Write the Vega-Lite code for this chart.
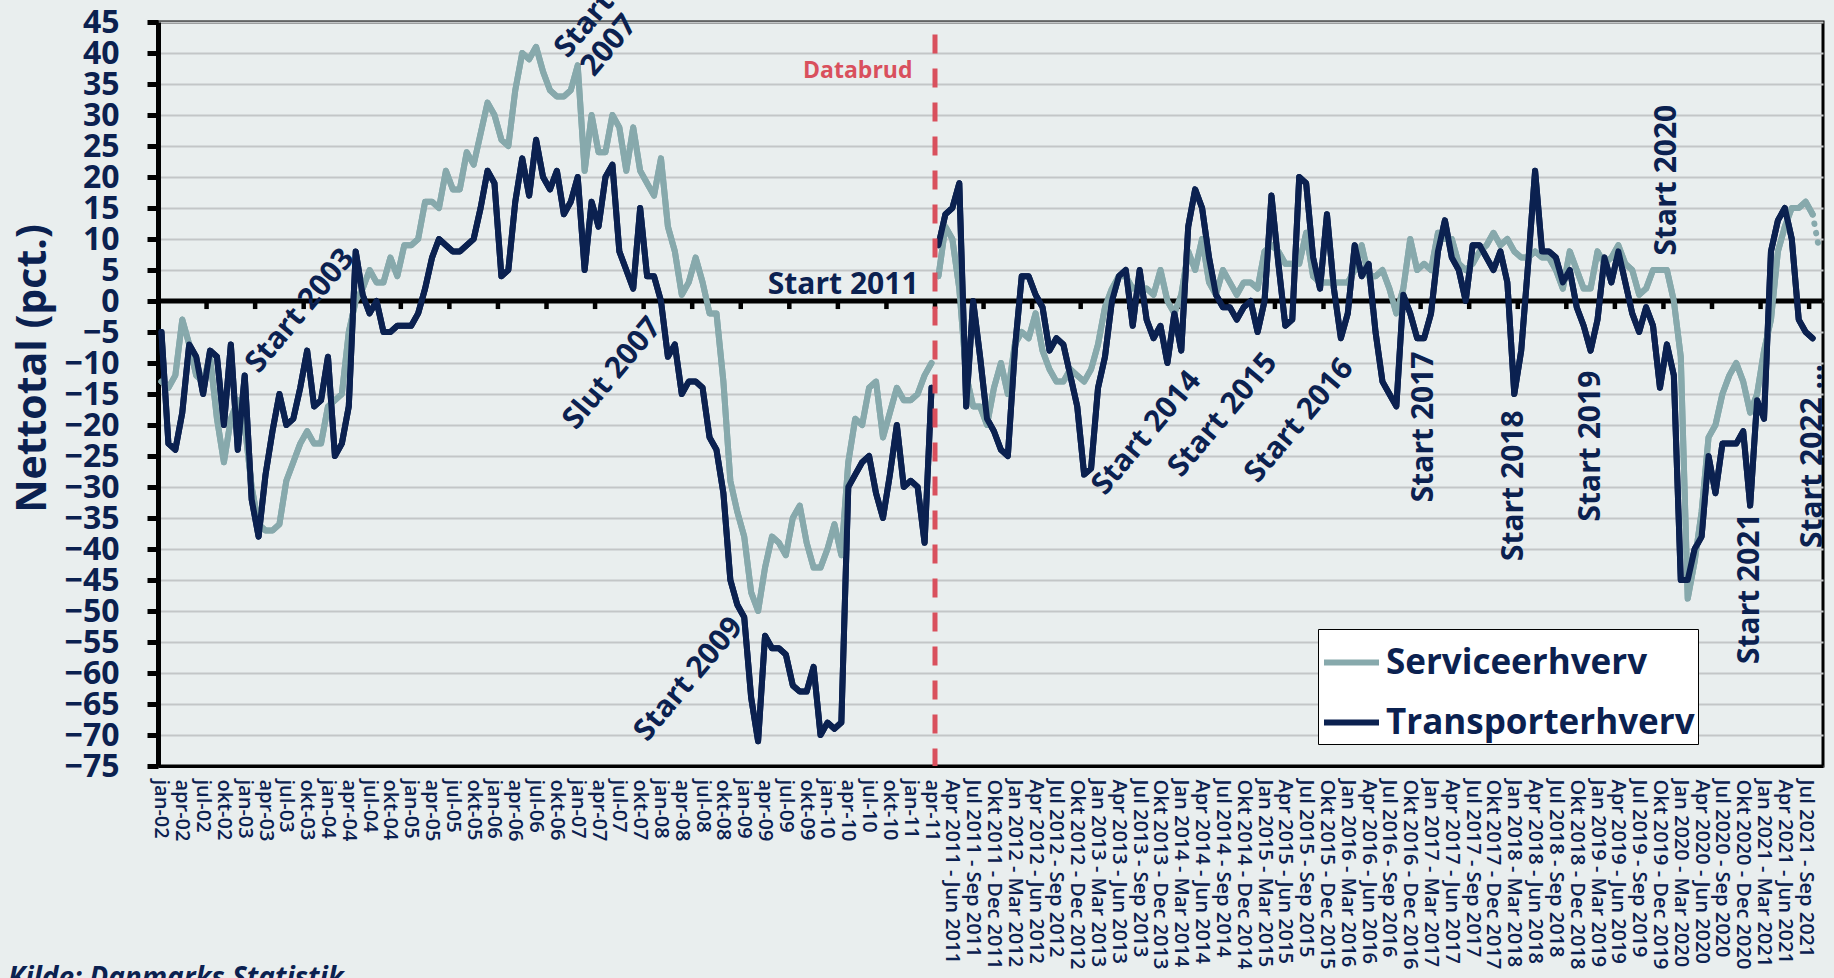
{
  "$schema": "https://vega.github.io/schema/vega-lite/v6.json",
  "width": 1665,
  "height": 744,
  "autosize": {"type": "none"},
  "padding": {"left": 158, "top": 22, "right": 11, "bottom": 212},
  "background": "#e9eeee",
  "config": {
    "font": "Open Sans",
    "view": {"stroke": "#000000", "strokeWidth": 3},
    "axis": {"labelFont": "Open Sans", "titleFont": "Open Sans", "labelOverlap": false},
    "axisY": {"labelOverlap": false, "tickCount": 30},
    "legend": {"labelFont": "Open Sans"},
    "text": {"font": "Open Sans"}
  },
  "title": {"text": "Kilde: Danmarks Statistik", "orient": "bottom", "anchor": "start", "frame": "group", "dx": -150, "offset": -4, "fontSize": 28, "fontWeight": "bold", "fontStyle": "italic", "color": "#0b2150", "font": "Open Sans"},
  "datasets": {
    "main": [
      {"p":"jan-02","g":"A","Serviceerhverv":-13,"Transporterhverv":-5},
      {"p":"feb-02","g":"A","Serviceerhverv":-14,"Transporterhverv":-23},
      {"p":"mar-02","g":"A","Serviceerhverv":-12,"Transporterhverv":-24},
      {"p":"apr-02","g":"A","Serviceerhverv":-3,"Transporterhverv":-18},
      {"p":"maj-02","g":"A","Serviceerhverv":-7,"Transporterhverv":-7},
      {"p":"jun-02","g":"A","Serviceerhverv":-12,"Transporterhverv":-9},
      {"p":"jul-02","g":"A","Serviceerhverv":-13,"Transporterhverv":-15},
      {"p":"aug-02","g":"A","Serviceerhverv":-9,"Transporterhverv":-8},
      {"p":"sep-02","g":"A","Serviceerhverv":-19,"Transporterhverv":-9},
      {"p":"okt-02","g":"A","Serviceerhverv":-26,"Transporterhverv":-20},
      {"p":"nov-02","g":"A","Serviceerhverv":-19,"Transporterhverv":-7},
      {"p":"dec-02","g":"A","Serviceerhverv":-16,"Transporterhverv":-24},
      {"p":"jan-03","g":"A","Serviceerhverv":-20,"Transporterhverv":-12},
      {"p":"feb-03","g":"A","Serviceerhverv":-30,"Transporterhverv":-32},
      {"p":"mar-03","g":"A","Serviceerhverv":-36,"Transporterhverv":-38},
      {"p":"apr-03","g":"A","Serviceerhverv":-37,"Transporterhverv":-28},
      {"p":"maj-03","g":"A","Serviceerhverv":-37,"Transporterhverv":-21},
      {"p":"jun-03","g":"A","Serviceerhverv":-36,"Transporterhverv":-15},
      {"p":"jul-03","g":"A","Serviceerhverv":-29,"Transporterhverv":-20},
      {"p":"aug-03","g":"A","Serviceerhverv":-26,"Transporterhverv":-19},
      {"p":"sep-03","g":"A","Serviceerhverv":-23,"Transporterhverv":-14},
      {"p":"okt-03","g":"A","Serviceerhverv":-21,"Transporterhverv":-8},
      {"p":"nov-03","g":"A","Serviceerhverv":-23,"Transporterhverv":-17},
      {"p":"dec-03","g":"A","Serviceerhverv":-23,"Transporterhverv":-16},
      {"p":"jan-04","g":"A","Serviceerhverv":-17,"Transporterhverv":-9},
      {"p":"feb-04","g":"A","Serviceerhverv":-16,"Transporterhverv":-25},
      {"p":"mar-04","g":"A","Serviceerhverv":-15,"Transporterhverv":-23},
      {"p":"apr-04","g":"A","Serviceerhverv":-5,"Transporterhverv":-17},
      {"p":"maj-04","g":"A","Serviceerhverv":0,"Transporterhverv":8},
      {"p":"jun-04","g":"A","Serviceerhverv":2,"Transporterhverv":1},
      {"p":"jul-04","g":"A","Serviceerhverv":5,"Transporterhverv":-2},
      {"p":"aug-04","g":"A","Serviceerhverv":3,"Transporterhverv":0},
      {"p":"sep-04","g":"A","Serviceerhverv":3,"Transporterhverv":-5},
      {"p":"okt-04","g":"A","Serviceerhverv":7,"Transporterhverv":-5},
      {"p":"nov-04","g":"A","Serviceerhverv":4,"Transporterhverv":-4},
      {"p":"dec-04","g":"A","Serviceerhverv":9,"Transporterhverv":-4},
      {"p":"jan-05","g":"A","Serviceerhverv":9,"Transporterhverv":-4},
      {"p":"feb-05","g":"A","Serviceerhverv":10,"Transporterhverv":-2},
      {"p":"mar-05","g":"A","Serviceerhverv":16,"Transporterhverv":2},
      {"p":"apr-05","g":"A","Serviceerhverv":16,"Transporterhverv":7},
      {"p":"maj-05","g":"A","Serviceerhverv":15,"Transporterhverv":10},
      {"p":"jun-05","g":"A","Serviceerhverv":21,"Transporterhverv":9},
      {"p":"jul-05","g":"A","Serviceerhverv":18,"Transporterhverv":8},
      {"p":"aug-05","g":"A","Serviceerhverv":18,"Transporterhverv":8},
      {"p":"sep-05","g":"A","Serviceerhverv":24,"Transporterhverv":9},
      {"p":"okt-05","g":"A","Serviceerhverv":22,"Transporterhverv":10},
      {"p":"nov-05","g":"A","Serviceerhverv":27,"Transporterhverv":15},
      {"p":"dec-05","g":"A","Serviceerhverv":32,"Transporterhverv":21},
      {"p":"jan-06","g":"A","Serviceerhverv":30,"Transporterhverv":19},
      {"p":"feb-06","g":"A","Serviceerhverv":26,"Transporterhverv":4},
      {"p":"mar-06","g":"A","Serviceerhverv":25,"Transporterhverv":5},
      {"p":"apr-06","g":"A","Serviceerhverv":34,"Transporterhverv":16},
      {"p":"maj-06","g":"A","Serviceerhverv":40,"Transporterhverv":23},
      {"p":"jun-06","g":"A","Serviceerhverv":39,"Transporterhverv":17},
      {"p":"jul-06","g":"A","Serviceerhverv":41,"Transporterhverv":26},
      {"p":"aug-06","g":"A","Serviceerhverv":37,"Transporterhverv":20},
      {"p":"sep-06","g":"A","Serviceerhverv":34,"Transporterhverv":18},
      {"p":"okt-06","g":"A","Serviceerhverv":33,"Transporterhverv":21},
      {"p":"nov-06","g":"A","Serviceerhverv":33,"Transporterhverv":14},
      {"p":"dec-06","g":"A","Serviceerhverv":34,"Transporterhverv":16},
      {"p":"jan-07","g":"A","Serviceerhverv":38,"Transporterhverv":20},
      {"p":"feb-07","g":"A","Serviceerhverv":21,"Transporterhverv":5},
      {"p":"mar-07","g":"A","Serviceerhverv":30,"Transporterhverv":16},
      {"p":"apr-07","g":"A","Serviceerhverv":24,"Transporterhverv":12},
      {"p":"maj-07","g":"A","Serviceerhverv":24,"Transporterhverv":20},
      {"p":"jun-07","g":"A","Serviceerhverv":30,"Transporterhverv":22},
      {"p":"jul-07","g":"A","Serviceerhverv":28,"Transporterhverv":8},
      {"p":"aug-07","g":"A","Serviceerhverv":21,"Transporterhverv":5},
      {"p":"sep-07","g":"A","Serviceerhverv":28,"Transporterhverv":2},
      {"p":"okt-07","g":"A","Serviceerhverv":21,"Transporterhverv":15},
      {"p":"nov-07","g":"A","Serviceerhverv":19,"Transporterhverv":4},
      {"p":"dec-07","g":"A","Serviceerhverv":17,"Transporterhverv":4},
      {"p":"jan-08","g":"A","Serviceerhverv":23,"Transporterhverv":0},
      {"p":"feb-08","g":"A","Serviceerhverv":12,"Transporterhverv":-9},
      {"p":"mar-08","g":"A","Serviceerhverv":8,"Transporterhverv":-7},
      {"p":"apr-08","g":"A","Serviceerhverv":1,"Transporterhverv":-15},
      {"p":"maj-08","g":"A","Serviceerhverv":3,"Transporterhverv":-13},
      {"p":"jun-08","g":"A","Serviceerhverv":7,"Transporterhverv":-13},
      {"p":"jul-08","g":"A","Serviceerhverv":3,"Transporterhverv":-14},
      {"p":"aug-08","g":"A","Serviceerhverv":-2,"Transporterhverv":-22},
      {"p":"sep-08","g":"A","Serviceerhverv":-2,"Transporterhverv":-24},
      {"p":"okt-08","g":"A","Serviceerhverv":-13,"Transporterhverv":-31},
      {"p":"nov-08","g":"A","Serviceerhverv":-29,"Transporterhverv":-45},
      {"p":"dec-08","g":"A","Serviceerhverv":-34,"Transporterhverv":-49},
      {"p":"jan-09","g":"A","Serviceerhverv":-38,"Transporterhverv":-51},
      {"p":"feb-09","g":"A","Serviceerhverv":-47,"Transporterhverv":-64},
      {"p":"mar-09","g":"A","Serviceerhverv":-50,"Transporterhverv":-71},
      {"p":"apr-09","g":"A","Serviceerhverv":-43,"Transporterhverv":-54},
      {"p":"maj-09","g":"A","Serviceerhverv":-38,"Transporterhverv":-56},
      {"p":"jun-09","g":"A","Serviceerhverv":-39,"Transporterhverv":-56},
      {"p":"jul-09","g":"A","Serviceerhverv":-41,"Transporterhverv":-57},
      {"p":"aug-09","g":"A","Serviceerhverv":-35,"Transporterhverv":-62},
      {"p":"sep-09","g":"A","Serviceerhverv":-33,"Transporterhverv":-63},
      {"p":"okt-09","g":"A","Serviceerhverv":-39,"Transporterhverv":-63},
      {"p":"nov-09","g":"A","Serviceerhverv":-43,"Transporterhverv":-59},
      {"p":"dec-09","g":"A","Serviceerhverv":-43,"Transporterhverv":-70},
      {"p":"jan-10","g":"A","Serviceerhverv":-40,"Transporterhverv":-68},
      {"p":"feb-10","g":"A","Serviceerhverv":-36,"Transporterhverv":-69},
      {"p":"mar-10","g":"A","Serviceerhverv":-41,"Transporterhverv":-68},
      {"p":"apr-10","g":"A","Serviceerhverv":-26,"Transporterhverv":-30},
      {"p":"maj-10","g":"A","Serviceerhverv":-19,"Transporterhverv":-28},
      {"p":"jun-10","g":"A","Serviceerhverv":-20,"Transporterhverv":-26},
      {"p":"jul-10","g":"A","Serviceerhverv":-14,"Transporterhverv":-25},
      {"p":"aug-10","g":"A","Serviceerhverv":-13,"Transporterhverv":-31},
      {"p":"sep-10","g":"A","Serviceerhverv":-22,"Transporterhverv":-35},
      {"p":"okt-10","g":"A","Serviceerhverv":-18,"Transporterhverv":-28},
      {"p":"nov-10","g":"A","Serviceerhverv":-14,"Transporterhverv":-20},
      {"p":"dec-10","g":"A","Serviceerhverv":-16,"Transporterhverv":-30},
      {"p":"jan-11","g":"A","Serviceerhverv":-16,"Transporterhverv":-29},
      {"p":"feb-11","g":"A","Serviceerhverv":-15,"Transporterhverv":-30},
      {"p":"mar-11","g":"A","Serviceerhverv":-12,"Transporterhverv":-39},
      {"p":"apr-11","g":"A","Serviceerhverv":-10,"Transporterhverv":-14},
      {"p":"Feb 2011 - Apr 2011","g":"B","Serviceerhverv":4,"Transporterhverv":9},
      {"p":"Mar 2011 - Maj 2011","g":"B","Serviceerhverv":12,"Transporterhverv":14},
      {"p":"Apr 2011 - Jun 2011","g":"B","Serviceerhverv":10,"Transporterhverv":15},
      {"p":"Maj 2011 - Jul 2011","g":"B","Serviceerhverv":2,"Transporterhverv":19},
      {"p":"Jun 2011 - Aug 2011","g":"B","Serviceerhverv":-12,"Transporterhverv":-17},
      {"p":"Jul 2011 - Sep 2011","g":"B","Serviceerhverv":-17,"Transporterhverv":0},
      {"p":"Aug 2011 - Okt 2011","g":"B","Serviceerhverv":-17,"Transporterhverv":-9},
      {"p":"Sep 2011 - Nov 2011","g":"B","Serviceerhverv":-20,"Transporterhverv":-19},
      {"p":"Okt 2011 - Dec 2011","g":"B","Serviceerhverv":-14,"Transporterhverv":-21},
      {"p":"Nov 2011 - Jan 2012","g":"B","Serviceerhverv":-10,"Transporterhverv":-24},
      {"p":"Dec 2011 - Feb 2012","g":"B","Serviceerhverv":-15,"Transporterhverv":-25},
      {"p":"Jan 2012 - Mar 2012","g":"B","Serviceerhverv":-7,"Transporterhverv":-8},
      {"p":"Feb 2012 - Apr 2012","g":"B","Serviceerhverv":-5,"Transporterhverv":4},
      {"p":"Mar 2012 - Maj 2012","g":"B","Serviceerhverv":-6,"Transporterhverv":4},
      {"p":"Apr 2012 - Jun 2012","g":"B","Serviceerhverv":-2,"Transporterhverv":1},
      {"p":"Maj 2012 - Jul 2012","g":"B","Serviceerhverv":-8,"Transporterhverv":-1},
      {"p":"Jun 2012 - Aug 2012","g":"B","Serviceerhverv":-11,"Transporterhverv":-8},
      {"p":"Jul 2012 - Sep 2012","g":"B","Serviceerhverv":-13,"Transporterhverv":-6},
      {"p":"Aug 2012 - Okt 2012","g":"B","Serviceerhverv":-13,"Transporterhverv":-7},
      {"p":"Sep 2012 - Nov 2012","g":"B","Serviceerhverv":-11,"Transporterhverv":-12},
      {"p":"Okt 2012 - Dec 2012","g":"B","Serviceerhverv":-12,"Transporterhverv":-17},
      {"p":"Nov 2012 - Jan 2013","g":"B","Serviceerhverv":-13,"Transporterhverv":-28},
      {"p":"Dec 2012 - Feb 2013","g":"B","Serviceerhverv":-11,"Transporterhverv":-27},
      {"p":"Jan 2013 - Mar 2013","g":"B","Serviceerhverv":-7,"Transporterhverv":-14},
      {"p":"Feb 2013 - Apr 2013","g":"B","Serviceerhverv":-1,"Transporterhverv":-9},
      {"p":"Mar 2013 - Maj 2013","g":"B","Serviceerhverv":2,"Transporterhverv":0},
      {"p":"Apr 2013 - Jun 2013","g":"B","Serviceerhverv":4,"Transporterhverv":4},
      {"p":"Maj 2013 - Jul 2013","g":"B","Serviceerhverv":4,"Transporterhverv":5},
      {"p":"Jun 2013 - Aug 2013","g":"B","Serviceerhverv":2,"Transporterhverv":-4},
      {"p":"Jul 2013 - Sep 2013","g":"B","Serviceerhverv":2,"Transporterhverv":5},
      {"p":"Aug 2013 - Okt 2013","g":"B","Serviceerhverv":2,"Transporterhverv":-3},
      {"p":"Sep 2013 - Nov 2013","g":"B","Serviceerhverv":1,"Transporterhverv":-6},
      {"p":"Okt 2013 - Dec 2013","g":"B","Serviceerhverv":5,"Transporterhverv":-4},
      {"p":"Nov 2013 - Jan 2014","g":"B","Serviceerhverv":0,"Transporterhverv":-10},
      {"p":"Dec 2013 - Feb 2014","g":"B","Serviceerhverv":-2,"Transporterhverv":-2},
      {"p":"Jan 2014 - Mar 2014","g":"B","Serviceerhverv":1,"Transporterhverv":-8},
      {"p":"Feb 2014 - Apr 2014","g":"B","Serviceerhverv":8,"Transporterhverv":12},
      {"p":"Mar 2014 - Maj 2014","g":"B","Serviceerhverv":5,"Transporterhverv":18},
      {"p":"Apr 2014 - Jun 2014","g":"B","Serviceerhverv":10,"Transporterhverv":15},
      {"p":"Maj 2014 - Jul 2014","g":"B","Serviceerhverv":3,"Transporterhverv":7},
      {"p":"Jun 2014 - Aug 2014","g":"B","Serviceerhverv":1,"Transporterhverv":1},
      {"p":"Jul 2014 - Sep 2014","g":"B","Serviceerhverv":5,"Transporterhverv":-1},
      {"p":"Aug 2014 - Okt 2014","g":"B","Serviceerhverv":3,"Transporterhverv":-1},
      {"p":"Sep 2014 - Nov 2014","g":"B","Serviceerhverv":1,"Transporterhverv":-3},
      {"p":"Okt 2014 - Dec 2014","g":"B","Serviceerhverv":3,"Transporterhverv":-1},
      {"p":"Nov 2014 - Jan 2015","g":"B","Serviceerhverv":3,"Transporterhverv":0},
      {"p":"Dec 2014 - Feb 2015","g":"B","Serviceerhverv":2,"Transporterhverv":-5},
      {"p":"Jan 2015 - Mar 2015","g":"B","Serviceerhverv":8,"Transporterhverv":0},
      {"p":"Feb 2015 - Apr 2015","g":"B","Serviceerhverv":9,"Transporterhverv":17},
      {"p":"Mar 2015 - Maj 2015","g":"B","Serviceerhverv":8,"Transporterhverv":6},
      {"p":"Apr 2015 - Jun 2015","g":"B","Serviceerhverv":6,"Transporterhverv":-4},
      {"p":"Maj 2015 - Jul 2015","g":"B","Serviceerhverv":6,"Transporterhverv":-3},
      {"p":"Jun 2015 - Aug 2015","g":"B","Serviceerhverv":6,"Transporterhverv":20},
      {"p":"Jul 2015 - Sep 2015","g":"B","Serviceerhverv":11,"Transporterhverv":19},
      {"p":"Aug 2015 - Okt 2015","g":"B","Serviceerhverv":4,"Transporterhverv":7},
      {"p":"Sep 2015 - Nov 2015","g":"B","Serviceerhverv":3,"Transporterhverv":2},
      {"p":"Okt 2015 - Dec 2015","g":"B","Serviceerhverv":3,"Transporterhverv":14},
      {"p":"Nov 2015 - Jan 2016","g":"B","Serviceerhverv":3,"Transporterhverv":2},
      {"p":"Dec 2015 - Feb 2016","g":"B","Serviceerhverv":3,"Transporterhverv":-6},
      {"p":"Jan 2016 - Mar 2016","g":"B","Serviceerhverv":3,"Transporterhverv":-2},
      {"p":"Feb 2016 - Apr 2016","g":"B","Serviceerhverv":5,"Transporterhverv":9},
      {"p":"Mar 2016 - Maj 2016","g":"B","Serviceerhverv":9,"Transporterhverv":4},
      {"p":"Apr 2016 - Jun 2016","g":"B","Serviceerhverv":4,"Transporterhverv":6},
      {"p":"Maj 2016 - Jul 2016","g":"B","Serviceerhverv":4,"Transporterhverv":-5},
      {"p":"Jun 2016 - Aug 2016","g":"B","Serviceerhverv":5,"Transporterhverv":-13},
      {"p":"Jul 2016 - Sep 2016","g":"B","Serviceerhverv":2,"Transporterhverv":-15},
      {"p":"Aug 2016 - Okt 2016","g":"B","Serviceerhverv":-2,"Transporterhverv":-17},
      {"p":"Sep 2016 - Nov 2016","g":"B","Serviceerhverv":2,"Transporterhverv":1},
      {"p":"Okt 2016 - Dec 2016","g":"B","Serviceerhverv":10,"Transporterhverv":-2},
      {"p":"Nov 2016 - Jan 2017","g":"B","Serviceerhverv":5,"Transporterhverv":-6},
      {"p":"Dec 2016 - Feb 2017","g":"B","Serviceerhverv":6,"Transporterhverv":-6},
      {"p":"Jan 2017 - Mar 2017","g":"B","Serviceerhverv":5,"Transporterhverv":-2},
      {"p":"Feb 2017 - Apr 2017","g":"B","Serviceerhverv":11,"Transporterhverv":8},
      {"p":"Mar 2017 - Maj 2017","g":"B","Serviceerhverv":10,"Transporterhverv":13},
      {"p":"Apr 2017 - Jun 2017","g":"B","Serviceerhverv":10,"Transporterhverv":7},
      {"p":"Maj 2017 - Jul 2017","g":"B","Serviceerhverv":6,"Transporterhverv":5},
      {"p":"Jun 2017 - Aug 2017","g":"B","Serviceerhverv":5,"Transporterhverv":0},
      {"p":"Jul 2017 - Sep 2017","g":"B","Serviceerhverv":6,"Transporterhverv":9},
      {"p":"Aug 2017 - Okt 2017","g":"B","Serviceerhverv":8,"Transporterhverv":9},
      {"p":"Sep 2017 - Nov 2017","g":"B","Serviceerhverv":9,"Transporterhverv":7},
      {"p":"Okt 2017 - Dec 2017","g":"B","Serviceerhverv":11,"Transporterhverv":5},
      {"p":"Nov 2017 - Jan 2018","g":"B","Serviceerhverv":9,"Transporterhverv":8},
      {"p":"Dec 2017 - Feb 2018","g":"B","Serviceerhverv":10,"Transporterhverv":3},
      {"p":"Jan 2018 - Mar 2018","g":"B","Serviceerhverv":8,"Transporterhverv":-15},
      {"p":"Feb 2018 - Apr 2018","g":"B","Serviceerhverv":7,"Transporterhverv":-8},
      {"p":"Mar 2018 - Maj 2018","g":"B","Serviceerhverv":7,"Transporterhverv":6},
      {"p":"Apr 2018 - Jun 2018","g":"B","Serviceerhverv":8,"Transporterhverv":21},
      {"p":"Maj 2018 - Jul 2018","g":"B","Serviceerhverv":7,"Transporterhverv":8},
      {"p":"Jun 2018 - Aug 2018","g":"B","Serviceerhverv":7,"Transporterhverv":8},
      {"p":"Jul 2018 - Sep 2018","g":"B","Serviceerhverv":5,"Transporterhverv":7},
      {"p":"Aug 2018 - Okt 2018","g":"B","Serviceerhverv":2,"Transporterhverv":3},
      {"p":"Sep 2018 - Nov 2018","g":"B","Serviceerhverv":8,"Transporterhverv":5},
      {"p":"Okt 2018 - Dec 2018","g":"B","Serviceerhverv":5,"Transporterhverv":-1},
      {"p":"Nov 2018 - Jan 2019","g":"B","Serviceerhverv":2,"Transporterhverv":-4},
      {"p":"Dec 2018 - Feb 2019","g":"B","Serviceerhverv":2,"Transporterhverv":-8},
      {"p":"Jan 2019 - Mar 2019","g":"B","Serviceerhverv":8,"Transporterhverv":-3},
      {"p":"Feb 2019 - Apr 2019","g":"B","Serviceerhverv":6,"Transporterhverv":7},
      {"p":"Mar 2019 - Maj 2019","g":"B","Serviceerhverv":7,"Transporterhverv":3},
      {"p":"Apr 2019 - Jun 2019","g":"B","Serviceerhverv":9,"Transporterhverv":8},
      {"p":"Maj 2019 - Jul 2019","g":"B","Serviceerhverv":6,"Transporterhverv":3},
      {"p":"Jun 2019 - Aug 2019","g":"B","Serviceerhverv":5,"Transporterhverv":-2},
      {"p":"Jul 2019 - Sep 2019","g":"B","Serviceerhverv":1,"Transporterhverv":-5},
      {"p":"Aug 2019 - Okt 2019","g":"B","Serviceerhverv":2,"Transporterhverv":-1},
      {"p":"Sep 2019 - Nov 2019","g":"B","Serviceerhverv":5,"Transporterhverv":-4},
      {"p":"Okt 2019 - Dec 2019","g":"B","Serviceerhverv":5,"Transporterhverv":-14},
      {"p":"Nov 2019 - Jan 2020","g":"B","Serviceerhverv":5,"Transporterhverv":-7},
      {"p":"Dec 2019 - Feb 2020","g":"B","Serviceerhverv":0,"Transporterhverv":-12},
      {"p":"Jan 2020 - Mar 2020","g":"B","Serviceerhverv":-9,"Transporterhverv":-45},
      {"p":"Feb 2020 - Apr 2020","g":"B","Serviceerhverv":-48,"Transporterhverv":-45},
      {"p":"Mar 2020 - Maj 2020","g":"B","Serviceerhverv":-42,"Transporterhverv":-40},
      {"p":"Apr 2020 - Jun 2020","g":"B","Serviceerhverv":-34,"Transporterhverv":-38},
      {"p":"Maj 2020 - Jul 2020","g":"B","Serviceerhverv":-22,"Transporterhverv":-25},
      {"p":"Jun 2020 - Aug 2020","g":"B","Serviceerhverv":-20,"Transporterhverv":-31},
      {"p":"Jul 2020 - Sep 2020","g":"B","Serviceerhverv":-15,"Transporterhverv":-23},
      {"p":"Aug 2020 - Okt 2020","g":"B","Serviceerhverv":-12,"Transporterhverv":-23},
      {"p":"Sep 2020 - Nov 2020","g":"B","Serviceerhverv":-10,"Transporterhverv":-23},
      {"p":"Okt 2020 - Dec 2020","g":"B","Serviceerhverv":-13,"Transporterhverv":-21},
      {"p":"Nov 2020 - Jan 2021","g":"B","Serviceerhverv":-18,"Transporterhverv":-33},
      {"p":"Dec 2020 - Feb 2021","g":"B","Serviceerhverv":-15,"Transporterhverv":-16},
      {"p":"Jan 2021 - Mar 2021","g":"B","Serviceerhverv":-8,"Transporterhverv":-19},
      {"p":"Feb 2021 - Apr 2021","g":"B","Serviceerhverv":-3,"Transporterhverv":8},
      {"p":"Mar 2021 - Maj 2021","g":"B","Serviceerhverv":8,"Transporterhverv":13},
      {"p":"Apr 2021 - Jun 2021","g":"B","Serviceerhverv":12,"Transporterhverv":15},
      {"p":"Maj 2021 - Jul 2021","g":"B","Serviceerhverv":15,"Transporterhverv":10},
      {"p":"Jun 2021 - Aug 2021","g":"B","Serviceerhverv":15,"Transporterhverv":-3},
      {"p":"Jul 2021 - Sep 2021","g":"B","Serviceerhverv":16,"Transporterhverv":-5},
      {"p":"Aug 2021 - Okt 2021","g":"B","Serviceerhverv":14,"Transporterhverv":-6}
    ],
    "tail": [
      {"p":"Aug 2021 - Okt 2021","v":14},
      {"p":"Sep 2021 - Nov 2021","v":8}
    ],
    "ticks": [
      {"p":"aug-02"},{"p":"mar-03"},{"p":"okt-03"},{"p":"maj-04"},{"p":"dec-04"},{"p":"jul-05"},{"p":"feb-06"},{"p":"sep-06"},{"p":"apr-07"},{"p":"nov-07"},{"p":"jun-08"},{"p":"jan-09"},{"p":"aug-09"},{"p":"mar-10"},{"p":"okt-10"},
      {"p":"Feb 2011 - Apr 2011"},{"p":"Sep 2011 - Nov 2011"},{"p":"Apr 2012 - Jun 2012"},{"p":"Nov 2012 - Jan 2013"},{"p":"Jun 2013 - Aug 2013"},{"p":"Jan 2014 - Mar 2014"},{"p":"Aug 2014 - Okt 2014"},{"p":"Mar 2015 - Maj 2015"},{"p":"Okt 2015 - Dec 2015"},{"p":"Maj 2016 - Jul 2016"},{"p":"Dec 2016 - Feb 2017"},{"p":"Jul 2017 - Sep 2017"},{"p":"Feb 2018 - Apr 2018"},{"p":"Sep 2018 - Nov 2018"},{"p":"Apr 2019 - Jun 2019"},{"p":"Nov 2019 - Jan 2020"},{"p":"Jun 2020 - Aug 2020"},{"p":"Jan 2021 - Mar 2021"},{"p":"Aug 2021 - Okt 2021"}
    ]
  },
  "layer": [
    {
      "data": {"name": "main"},
      "transform": [{"fold": ["Serviceerhverv", "Transporterhverv"], "as": ["serie", "v"]}],
      "mark": {"type": "line", "strokeWidth": 6, "strokeCap": "round", "strokeJoin": "round"},
      "encoding": {
        "x": {
          "field": "p", "type": "nominal", "sort": null, "bandPosition": 0.5,
          "scale": {"type": "band", "paddingInner": 0, "paddingOuter": 0, "domain": [
            "jan-02","feb-02","mar-02","apr-02","maj-02","jun-02","jul-02","aug-02","sep-02","okt-02","nov-02","dec-02",
            "jan-03","feb-03","mar-03","apr-03","maj-03","jun-03","jul-03","aug-03","sep-03","okt-03","nov-03","dec-03",
            "jan-04","feb-04","mar-04","apr-04","maj-04","jun-04","jul-04","aug-04","sep-04","okt-04","nov-04","dec-04",
            "jan-05","feb-05","mar-05","apr-05","maj-05","jun-05","jul-05","aug-05","sep-05","okt-05","nov-05","dec-05",
            "jan-06","feb-06","mar-06","apr-06","maj-06","jun-06","jul-06","aug-06","sep-06","okt-06","nov-06","dec-06",
            "jan-07","feb-07","mar-07","apr-07","maj-07","jun-07","jul-07","aug-07","sep-07","okt-07","nov-07","dec-07",
            "jan-08","feb-08","mar-08","apr-08","maj-08","jun-08","jul-08","aug-08","sep-08","okt-08","nov-08","dec-08",
            "jan-09","feb-09","mar-09","apr-09","maj-09","jun-09","jul-09","aug-09","sep-09","okt-09","nov-09","dec-09",
            "jan-10","feb-10","mar-10","apr-10","maj-10","jun-10","jul-10","aug-10","sep-10","okt-10","nov-10","dec-10",
            "jan-11","feb-11","mar-11","apr-11",
            "Feb 2011 - Apr 2011","Mar 2011 - Maj 2011","Apr 2011 - Jun 2011","Maj 2011 - Jul 2011","Jun 2011 - Aug 2011","Jul 2011 - Sep 2011","Aug 2011 - Okt 2011","Sep 2011 - Nov 2011","Okt 2011 - Dec 2011","Nov 2011 - Jan 2012","Dec 2011 - Feb 2012",
            "Jan 2012 - Mar 2012","Feb 2012 - Apr 2012","Mar 2012 - Maj 2012","Apr 2012 - Jun 2012","Maj 2012 - Jul 2012","Jun 2012 - Aug 2012","Jul 2012 - Sep 2012","Aug 2012 - Okt 2012","Sep 2012 - Nov 2012","Okt 2012 - Dec 2012","Nov 2012 - Jan 2013","Dec 2012 - Feb 2013",
            "Jan 2013 - Mar 2013","Feb 2013 - Apr 2013","Mar 2013 - Maj 2013","Apr 2013 - Jun 2013","Maj 2013 - Jul 2013","Jun 2013 - Aug 2013","Jul 2013 - Sep 2013","Aug 2013 - Okt 2013","Sep 2013 - Nov 2013","Okt 2013 - Dec 2013","Nov 2013 - Jan 2014","Dec 2013 - Feb 2014",
            "Jan 2014 - Mar 2014","Feb 2014 - Apr 2014","Mar 2014 - Maj 2014","Apr 2014 - Jun 2014","Maj 2014 - Jul 2014","Jun 2014 - Aug 2014","Jul 2014 - Sep 2014","Aug 2014 - Okt 2014","Sep 2014 - Nov 2014","Okt 2014 - Dec 2014","Nov 2014 - Jan 2015","Dec 2014 - Feb 2015",
            "Jan 2015 - Mar 2015","Feb 2015 - Apr 2015","Mar 2015 - Maj 2015","Apr 2015 - Jun 2015","Maj 2015 - Jul 2015","Jun 2015 - Aug 2015","Jul 2015 - Sep 2015","Aug 2015 - Okt 2015","Sep 2015 - Nov 2015","Okt 2015 - Dec 2015","Nov 2015 - Jan 2016","Dec 2015 - Feb 2016",
            "Jan 2016 - Mar 2016","Feb 2016 - Apr 2016","Mar 2016 - Maj 2016","Apr 2016 - Jun 2016","Maj 2016 - Jul 2016","Jun 2016 - Aug 2016","Jul 2016 - Sep 2016","Aug 2016 - Okt 2016","Sep 2016 - Nov 2016","Okt 2016 - Dec 2016","Nov 2016 - Jan 2017","Dec 2016 - Feb 2017",
            "Jan 2017 - Mar 2017","Feb 2017 - Apr 2017","Mar 2017 - Maj 2017","Apr 2017 - Jun 2017","Maj 2017 - Jul 2017","Jun 2017 - Aug 2017","Jul 2017 - Sep 2017","Aug 2017 - Okt 2017","Sep 2017 - Nov 2017","Okt 2017 - Dec 2017","Nov 2017 - Jan 2018","Dec 2017 - Feb 2018",
            "Jan 2018 - Mar 2018","Feb 2018 - Apr 2018","Mar 2018 - Maj 2018","Apr 2018 - Jun 2018","Maj 2018 - Jul 2018","Jun 2018 - Aug 2018","Jul 2018 - Sep 2018","Aug 2018 - Okt 2018","Sep 2018 - Nov 2018","Okt 2018 - Dec 2018","Nov 2018 - Jan 2019","Dec 2018 - Feb 2019",
            "Jan 2019 - Mar 2019","Feb 2019 - Apr 2019","Mar 2019 - Maj 2019","Apr 2019 - Jun 2019","Maj 2019 - Jul 2019","Jun 2019 - Aug 2019","Jul 2019 - Sep 2019","Aug 2019 - Okt 2019","Sep 2019 - Nov 2019","Okt 2019 - Dec 2019","Nov 2019 - Jan 2020","Dec 2019 - Feb 2020",
            "Jan 2020 - Mar 2020","Feb 2020 - Apr 2020","Mar 2020 - Maj 2020","Apr 2020 - Jun 2020","Maj 2020 - Jul 2020","Jun 2020 - Aug 2020","Jul 2020 - Sep 2020","Aug 2020 - Okt 2020","Sep 2020 - Nov 2020","Okt 2020 - Dec 2020","Nov 2020 - Jan 2021","Dec 2020 - Feb 2021",
            "Jan 2021 - Mar 2021","Feb 2021 - Apr 2021","Mar 2021 - Maj 2021","Apr 2021 - Jun 2021","Maj 2021 - Jul 2021","Jun 2021 - Aug 2021","Jul 2021 - Sep 2021","Aug 2021 - Okt 2021","Sep 2021 - Nov 2021"
          ]},
          "axis": {
            "title": null,
            "values": [
              "jan-02","apr-02","jul-02","okt-02","jan-03","apr-03","jul-03","okt-03","jan-04","apr-04","jul-04","okt-04","jan-05","apr-05","jul-05","okt-05",
              "jan-06","apr-06","jul-06","okt-06","jan-07","apr-07","jul-07","okt-07","jan-08","apr-08","jul-08","okt-08","jan-09","apr-09","jul-09","okt-09",
              "jan-10","apr-10","jul-10","okt-10","jan-11","apr-11",
              "Apr 2011 - Jun 2011","Jul 2011 - Sep 2011","Okt 2011 - Dec 2011",
              "Jan 2012 - Mar 2012","Apr 2012 - Jun 2012","Jul 2012 - Sep 2012","Okt 2012 - Dec 2012",
              "Jan 2013 - Mar 2013","Apr 2013 - Jun 2013","Jul 2013 - Sep 2013","Okt 2013 - Dec 2013",
              "Jan 2014 - Mar 2014","Apr 2014 - Jun 2014","Jul 2014 - Sep 2014","Okt 2014 - Dec 2014",
              "Jan 2015 - Mar 2015","Apr 2015 - Jun 2015","Jul 2015 - Sep 2015","Okt 2015 - Dec 2015",
              "Jan 2016 - Mar 2016","Apr 2016 - Jun 2016","Jul 2016 - Sep 2016","Okt 2016 - Dec 2016",
              "Jan 2017 - Mar 2017","Apr 2017 - Jun 2017","Jul 2017 - Sep 2017","Okt 2017 - Dec 2017",
              "Jan 2018 - Mar 2018","Apr 2018 - Jun 2018","Jul 2018 - Sep 2018","Okt 2018 - Dec 2018",
              "Jan 2019 - Mar 2019","Apr 2019 - Jun 2019","Jul 2019 - Sep 2019","Okt 2019 - Dec 2019",
              "Jan 2020 - Mar 2020","Apr 2020 - Jun 2020","Jul 2020 - Sep 2020","Okt 2020 - Dec 2020",
              "Jan 2021 - Mar 2021","Apr 2021 - Jun 2021","Jul 2021 - Sep 2021"
            ],
            "labelAngle": 90,
            "labelFontSize": 20,
            "labelFontWeight": 600,
            "labelColor": "#0b2150",
            "labelPadding": 13,
            "labelOverlap": false,
            "labelLimit": 0,
            "labelFlush": false,
            "ticks": false,
            "grid": false,
            "domain": true,
            "domainColor": "#000000",
            "domainWidth": 3
          }
        },
        "y": {
          "field": "v", "type": "quantitative",
          "scale": {"domain": [-75, 45], "nice": false, "zero": false},
          "axis": {
            "values": [-75,-70,-65,-60,-55,-50,-45,-40,-35,-30,-25,-20,-15,-10,-5,0,5,10,15,20,25,30,35,40,45],
            "tickCount": 30,
            "labelFontSize": 32,
            "labelFontWeight": "bold",
            "labelColor": "#0b2150",
            "labelPadding": 28,
            "labelOverlap": false,
            "labelFlush": false,
            "tickSize": 11,
            "tickWidth": 5,
            "tickColor": "#000000",
            "domainColor": "#000000",
            "domainWidth": 5,
            "grid": true,
            "gridColor": "#c3c6c7",
            "gridWidth": 2,
            "title": "Nettotal (pct.)",
            "titleFontSize": 41,
            "titleFontWeight": "bold",
            "titleColor": "#0b2150",
            "titleAngle": -90,
            "titleX": -125,
            "titleY": 346,
            "titleAlign": "center",
            "titleBaseline": "middle"
          }
        },
        "color": {
          "field": "serie", "type": "nominal",
          "scale": {"domain": ["Serviceerhverv", "Transporterhverv"], "range": ["#87a9ac", "#0b2150"]},
          "legend": {
            "orient": "none", "legendX": 1160, "legendY": 607, "title": null, "direction": "vertical",
            "fillColor": "#ffffff", "strokeColor": "#000000", "padding": 3,
            "symbolType": "stroke", "symbolSize": 3025, "symbolStrokeWidth": 6,
            "labelFontSize": 35, "labelFontWeight": "bold", "labelColor": "#0b2150",
            "labelOffset": 4, "rowPadding": 11, "labelLimit": 0
          }
        },
        "detail": {"field": "g", "type": "nominal"}
      }
    },
    {
      "data": {"values": [{"z": 0}]},
      "mark": {"type": "rule", "color": "#000000", "strokeWidth": 5},
      "encoding": {"y": {"field": "z", "type": "quantitative", "axis": {"tickCount": 30, "labelOverlap": false}}}
    },
    {
      "data": {"name": "ticks"},
      "mark": {"type": "rule", "color": "#000000", "strokeWidth": 4.5},
      "encoding": {
        "x": {"field": "p", "type": "nominal", "bandPosition": 0, "scale": {"type": "band"}},
        "y": {"datum": 0, "type": "quantitative", "axis": {"tickCount": 30, "labelOverlap": false}},
        "y2": {"datum": -1.3}
      }
    },
    {
      "data": {"name": "main"},
      "transform": [{"fold": ["Serviceerhverv", "Transporterhverv"], "as": ["serie", "v"]}],
      "mark": {"type": "line", "strokeWidth": 6, "strokeCap": "round", "strokeJoin": "round"},
      "encoding": {
        "x": {"field": "p", "type": "nominal", "sort": null, "bandPosition": 0.5, "scale": {"type": "band"}},
        "y": {"field": "v", "type": "quantitative", "axis": {"tickCount": 30, "labelOverlap": false}},
        "color": {"field": "serie", "type": "nominal"},
        "detail": {"field": "g", "type": "nominal"}
      }
    },
    {
      "data": {"name": "tail"},
      "mark": {"type": "line", "color": "#87a9ac", "strokeWidth": 6, "strokeCap": "round", "strokeDash": [0.5, 9]},
      "encoding": {
        "x": {"field": "p", "type": "nominal", "sort": null, "bandPosition": 0.5, "scale": {"type": "band"}},
        "y": {"field": "v", "type": "quantitative", "axis": {"tickCount": 30, "labelOverlap": false}}
      }
    },
    {
      "data": {"values": [{"p": "Feb 2011 - Apr 2011"}]},
      "mark": {"type": "rule", "color": "#d9505d", "strokeWidth": 5, "strokeDash": [19, 15]},
      "encoding": {
        "x": {"field": "p", "type": "nominal", "bandPosition": 0, "scale": {"type": "band"}},
        "y": {"datum": 43, "type": "quantitative", "axis": {"tickCount": 30, "labelOverlap": false}},
        "y2": {"datum": -75}
      }
    },
    {
      "data": {"values": [{"p": "apr-11", "v": 37.1, "txt": "Databrud"}]},
      "mark": {"type": "text", "align": "right", "baseline": "middle", "dx": -19, "fontSize": 23, "fontWeight": "bold", "color": "#d9505d"},
      "encoding": {
        "x": {"field": "p", "type": "nominal", "bandPosition": 0.5, "scale": {"type": "band"}},
        "y": {"field": "v", "type": "quantitative", "axis": {"tickCount": 30, "labelOverlap": false}},
        "text": {"field": "txt"}
      }
    },
    {
      "data": {"values": [{"p": "apr-11", "v": 1.2, "txt": "Start 2011"}]},
      "mark": {"type": "text", "align": "right", "baseline": "alphabetic", "dx": -13, "fontSize": 30, "fontWeight": "bold", "color": "#0b2150"},
      "encoding": {
        "x": {"field": "p", "type": "nominal", "bandPosition": 0.5, "scale": {"type": "band"}},
        "y": {"field": "v", "type": "quantitative", "axis": {"tickCount": 30, "labelOverlap": false}},
        "text": {"field": "txt"}
      }
    },
    {
      "data": {"values": [
        {"p": "sep-03", "v": -1.6, "txt": "Start 2003"},
        {"p": "jun-07", "v": -11.7, "txt": "Slut 2007"},
        {"p": "maj-08", "v": -61, "txt": "Start 2009"},
        {"p": "Aug 2013 - Okt 2013", "v": -21.3, "txt": "Start 2014"},
        {"p": "Jul 2014 - Sep 2014", "v": -18.4, "txt": "Start 2015"},
        {"p": "Jun 2015 - Aug 2015", "v": -19.3, "txt": "Start 2016"},
        {"p": "feb-07", "v": 44.5, "txt": "Start\n2007"}
      ]},
      "mark": {"type": "text", "angle": -50, "align": "center", "baseline": "middle", "lineBreak": "\n", "lineHeight": 32, "fontSize": 30, "fontWeight": "bold", "color": "#0b2150"},
      "encoding": {
        "x": {"field": "p", "type": "nominal", "bandPosition": 0.5, "scale": {"type": "band"}},
        "y": {"field": "v", "type": "quantitative", "axis": {"tickCount": 30, "labelOverlap": false}},
        "text": {"field": "txt"}
      }
    },
    {
      "data": {"values": [
        {"p": "Dec 2016 - Feb 2017", "v": -20.3, "txt": "Start 2017"},
        {"p": "Jan 2018 - Mar 2018", "v": -29.8, "txt": "Start 2018"},
        {"p": "Dec 2018 - Feb 2019", "v": -23.4, "txt": "Start 2019"},
        {"p": "Nov 2019 - Jan 2020", "v": 19.5, "txt": "Start 2020"},
        {"p": "Nov 2020 - Jan 2021", "v": -46.4, "txt": "Start 2021"},
        {"p": "Aug 2021 - Okt 2021", "v": -25, "txt": "Start 2022 ..."}
      ]},
      "mark": {"type": "text", "angle": -90, "align": "center", "baseline": "middle", "fontSize": 30, "fontWeight": "bold", "color": "#0b2150"},
      "encoding": {
        "x": {"field": "p", "type": "nominal", "bandPosition": 0.5, "scale": {"type": "band"}},
        "y": {"field": "v", "type": "quantitative", "axis": {"tickCount": 30, "labelOverlap": false}},
        "text": {"field": "txt"}
      }
    }
  ]
}
